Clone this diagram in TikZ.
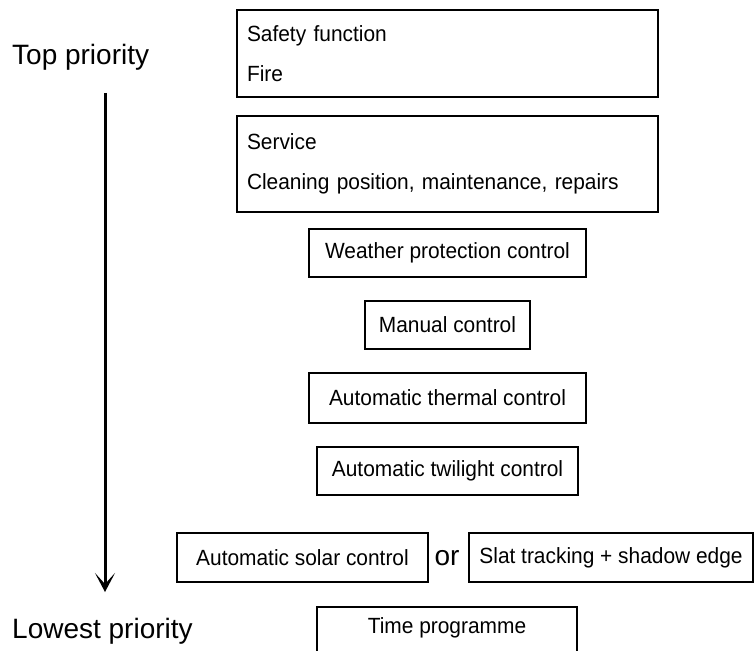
\documentclass[tikz,border=0pt]{standalone}
\usepackage{fontspec}
\setmainfont{Liberation Sans}
\newfontfamily\boxfont{Liberation Sans}[FakeStretch=0.95]
\usetikzlibrary{arrows.meta}

\begin{document}
\begin{tikzpicture}[
  x=1pt, y=-1pt,
  prionode/.style={rectangle, draw, line width=1.5pt, inner sep=0pt, font=\boxfont\fontsize{22}{40}\selectfont},
  sidelabel/.style={anchor=west, inner sep=0pt, font=\fontsize{28}{32}\selectfont},
  priorityarrow/.style={-{Stealth[length=19pt,width=20pt,inset=11pt]}, line width=3pt}
]

\useasboundingbox (0,0) rectangle (754,650);

% Priority boxes
\node[prionode, minimum width=421, minimum height=87, align=left, text width=401] (safety) at (447.5,53.5) {Safety function\\Fire};
\node[prionode, minimum width=421, minimum height=96, align=left, text width=401] (service) at (447.5,164) {Service\\Cleaning position, maintenance, repairs};
\node[prionode, minimum width=277, minimum height=48] (weather) at (447.5,253) {Weather protection control};
\node[prionode, minimum width=165, minimum height=48] (manual) at (447.5,325) {Manual control};
\node[prionode, minimum width=277, minimum height=50] (thermal) at (447.5,398) {Automatic thermal control};
\node[prionode, minimum width=261, minimum height=48] (twilight) at (447.5,471) {Automatic twilight control};
\node[prionode, minimum width=251, minimum height=49] (solar) at (302.5,557.5) {Automatic solar control};
\node[inner sep=0pt, font=\fontsize{28}{32}\selectfont] (or) at (447,558) {or};
\node[prionode, minimum width=284, minimum height=49] (slat) at (611,557.5) {Slat tracking + shadow edge};
\node[prionode, anchor=north, minimum width=260, text height=16, text depth=40, inner ysep=11] (time) at (447,606) {Time programme};

% Priority axis
\node[sidelabel] (toplabel) at (12,57) {Top priority};
\node[sidelabel] (lowlabel) at (12,631) {Lowest priority};
\coordinate (arrtop) at (105,93);
\coordinate (arrbot) at (105,592);
\draw[priorityarrow] (arrtop) -- (arrbot);

\end{tikzpicture}
\end{document}
